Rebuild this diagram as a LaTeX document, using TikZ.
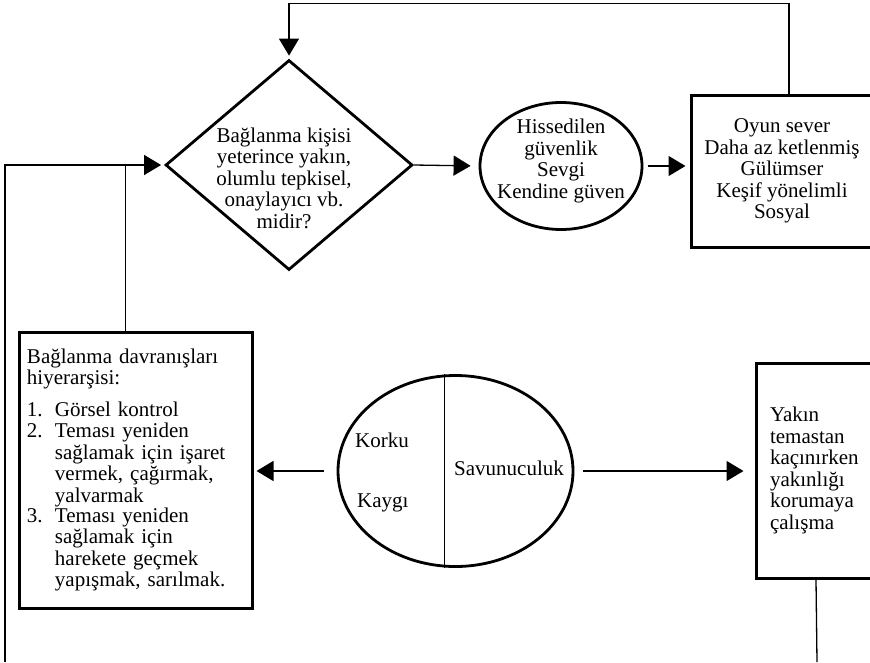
\documentclass[tikz,border=0pt]{standalone}
\usepackage{fontspec}
\setmainfont{Liberation Serif}
\usetikzlibrary{arrows.meta,shapes.geometric,positioning}

\newcommand{\madde}[2]{\makebox[28pt][l]{#1}\parbox[t]{190pt}{#2}}

\begin{document}
\begin{tikzpicture}[x=1pt, y=-1pt,
    metin/.style={font=\fontsize{21}{21.5}\selectfont, inner sep=0pt},
    kutu/.style={draw=black, line width=3pt, font=\fontsize{21}{21.5}\selectfont},
    karar/.style={diamond, draw=black, line width=2.8pt, inner sep=0pt},
    duygu/.style={ellipse, draw=black, line width=2.8pt, inner sep=0pt},
    ok/.style={line width=1.3pt, -{Triangle[length=17pt,width=20pt]}},
    cizgi/.style={line width=1.3pt}]
  \useasboundingbox (0,0) rectangle (870,662);
  % ust sira
  \node[karar, minimum width=247pt, minimum height=210pt] at (289,165) (soru) {};
  \node[metin, align=center] at (284,178) (soruyazi) {Bağlanma kişisi\\yeterince yakın,\\olumlu tepkisel,\\onaylayıcı vb.\\midir?};
  \node[duygu, minimum width=162pt, minimum height=127pt] at (561,166) (guven) {};
  \node[metin, align=center] at (561,161) (guvenyazi) {Hissedilen\\güvenlik\\Sevgi\\Kendine güven};
  \node[kutu, align=center, minimum width=182pt, minimum height=152pt] at (782,171) (oyun) {Oyun sever\\Daha az ketlenmiş\\Gülümser\\Keşif yönelimli\\Sosyal};
  % alt sira
  \node[kutu, align=left, text width=217pt, inner sep=8pt, minimum height=276pt] at (135.5,470) (hiyerarsi) {Bağlanma davranışları\\hiyerarşisi:\\[10pt]
    \madde{1.}{Görsel kontrol}\\
    \madde{2.}{Teması yeniden\\sağlamak için işaret\\vermek, çağırmak,\\yalvarmak}\\
    \madde{3.}{Teması yeniden\\sağlamak için\\harekete geçmek\\yapışmak, sarılmak.}};
  \node[duygu, minimum width=235pt, minimum height=191pt] at (455.5,471) (kaygi) {};
  \draw[line width=1pt] ([xshift=-11pt]kaygi.north) -- ([xshift=-11pt]kaygi.south);
  \node[metin, anchor=west] at (355,440) (korku) {Korku};
  \node[metin, anchor=west] at (357,503) (kaygiyazi) {Kaygı};
  \node[metin, anchor=west] at (454,468) (savunma) {Savunuculuk};
  \node[kutu, align=left, text width=92pt, inner xsep=14pt, inner ysep=0pt, minimum height=215pt] at (816,470.5) (yakin) {Yakın\\temastan\\kaçınırken\\yakınlığı\\korumaya\\çalışma};
  % baglantilar
  \coordinate (solalt) at (5,662);
  \coordinate (sagalt) at (817,662);
  \coordinate (h1) at ([xshift=-10pt]hiyerarsi.north);
  \draw[ok, shorten >=3pt] (solalt) |- (soru.west);
  \draw[cizgi] (h1) -- (h1 |- soru.west);
  \draw[ok, shorten >=8pt] (soru.east) -- (guven.west);
  \draw[ok, shorten <=5pt, shorten >=4pt] (guven.east) -- (guven.east -| oyun.west);
  \draw[ok, shorten >=3pt] ([xshift=7pt]oyun.north) -- ++(0,-90) -| (soru.north);
  \draw[ok, shorten <=13pt, shorten >=3pt] (kaygi.west) -- (kaygi.west -| hiyerarsi.east);
  \draw[ok, shorten <=9pt, shorten >=11pt] (kaygi.east) -- (kaygi.east -| yakin.west);
  \draw[cizgi] (yakin.south) -- (sagalt);
\end{tikzpicture}
\end{document}
